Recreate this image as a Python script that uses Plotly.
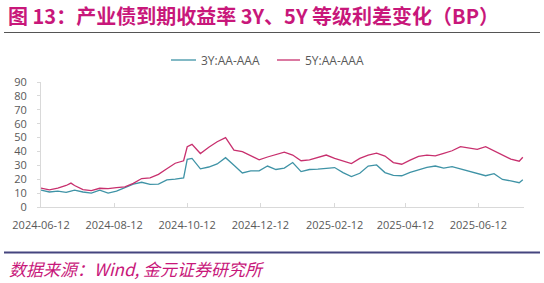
import plotly.graph_objects as go

dates = ["2024-06-12","2024-06-19","2024-06-26","2024-07-03","2024-07-07","2024-07-10","2024-07-17","2024-07-24",
         "2024-07-31","2024-08-07","2024-08-14","2024-08-21","2024-08-28","2024-09-04","2024-09-11","2024-09-18",
         "2024-09-25","2024-10-02","2024-10-09","2024-10-12","2024-10-16","2024-10-23","2024-10-30","2024-11-06",
         "2024-11-13","2024-11-20","2024-11-27","2024-12-04","2024-12-11","2024-12-18","2024-12-25","2025-01-01",
         "2025-01-08","2025-01-15","2025-01-22","2025-01-29","2025-02-05","2025-02-12","2025-02-19","2025-02-26",
         "2025-03-05","2025-03-12","2025-03-19","2025-03-26","2025-04-02","2025-04-09","2025-04-16","2025-04-23",
         "2025-04-30","2025-05-07","2025-05-14","2025-05-21","2025-05-28","2025-06-04","2025-06-11","2025-06-18",
         "2025-06-25","2025-07-02","2025-07-09","2025-07-16","2025-07-19"]

spread_3y = [12.1,10.8,11.4,10.5,11.5,12.1,10.8,10.0,
             12.1,10.0,11.4,13.8,16.5,17.8,16.3,16.5,
             19.5,20.0,21.0,34.3,35.0,27.5,28.8,31.0,
             35.5,30.0,24.5,26.0,26.0,29.5,27.0,28.0,
             32.0,25.5,27.0,27.3,27.9,28.4,24.8,21.9,
             24.3,29.5,30.3,24.8,22.8,22.5,25.0,27.0,
             28.5,29.5,28.0,29.0,27.5,25.8,24.3,22.5,
             24.0,19.8,18.8,17.5,19.6]

spread_5y = [13.6,12.4,13.6,15.5,17.2,15.5,12.5,11.8,
             13.5,13.2,14.0,14.5,17.0,20.5,21.0,23.5,
             27.5,31.5,33.3,43.4,45.1,38.5,43.0,47.0,
             50.0,41.0,39.8,36.8,34.0,36.0,38.0,39.5,
             37.4,33.3,34.0,35.5,37.4,35.0,33.3,31.3,
             35.0,37.4,38.8,36.7,32.0,30.8,33.8,36.5,
             37.4,36.8,38.6,40.5,43.4,42.5,41.5,43.5,
             40.5,38.0,34.5,33.0,35.8]

series_names = ["3Y:AA-AAA", "5Y:AA-AAA"]
series_colors = ["#3f93a6", "#c8306e"]
tick_dates = ["2024-06-12","2024-08-12","2024-10-12","2024-12-12","2025-02-12","2025-04-12","2025-06-12"]
y_ticks = [0,10,20,30,40,50,60,70,80,90]

W, H = 544, 283
L, R, T, B = 41, 20, 82, 76
PW, PH = W - L - R, H - T - B

def px(x):
    return (x - L) / PW

def py(y):
    return (H - B - y) / PH

fig = go.Figure()
for name, vals, col in zip(series_names, [spread_3y, spread_5y], series_colors):
    fig.add_trace(go.Scatter(x=dates, y=vals, mode="lines", name=name,
                             line=dict(color=col, width=1.3), showlegend=False))

tickfont = dict(family="Open Sans, Noto Sans, sans-serif", size=11, color="#595959")
fig.update_layout(
    width=W, height=H,
    margin=dict(l=L, r=R, t=T, b=B),
    paper_bgcolor="white", plot_bgcolor="white",
    xaxis=dict(type="date", range=["2024-06-12", "2025-07-20"], tickvals=tick_dates,
               ticktext=tick_dates, showgrid=False, zeroline=False, showline=True,
               linecolor="#d9d9d9", linewidth=1, ticks="inside", ticklen=4,
               tickcolor="#d9d9d9", tickfont=tickfont, ticklabelstandoff=8),
    yaxis=dict(range=[0, 90], tickvals=y_ticks, showgrid=False, zeroline=False,
               showline=True, linecolor="#d9d9d9", linewidth=1, ticks="outside",
               ticklen=3, tickcolor="#d9d9d9", ticklabelstandoff=8,
               tickfont=dict(family="Open Sans, Noto Sans, sans-serif", size=11, color="#595959")),
)

shapes = []
annotations = []
# legend
leg = [(171, 196, 199), (277, 300, 303)]
for (x0, x1, xt), name, col in zip(leg, series_names, series_colors):
    shapes.append(dict(type="line", xref="paper", yref="paper", x0=px(x0), x1=px(x1),
                       y0=py(60), y1=py(60), line=dict(color=col, width=1.3)))
    annotations.append(dict(xref="paper", yref="paper", x=px(xt), y=py(60), text=name,
                            showarrow=False, xanchor="left", yanchor="middle",
                            font=dict(family="Open Sans, Noto Sans, sans-serif", size=12, color="#595959")))
# title & rules
annotations.append(dict(xref="paper", yref="paper", x=px(6), y=py(15),
                        text="<b>图 13：产业债到期收益率 3Y、5Y 等级利差变化（BP）</b>",
                        showarrow=False, xanchor="left", yanchor="middle",
                        font=dict(family="Noto Sans CJK SC, sans-serif", size=20, color="#c8177a")))
shapes.append(dict(type="line", xref="paper", yref="paper", x0=px(4), x1=px(540),
                   y0=py(32.5), y1=py(32.5), line=dict(color="#555555", width=1.2)))
shapes.append(dict(type="line", xref="paper", yref="paper", x0=px(4), x1=px(540),
                   y0=py(252.5), y1=py(252.5), line=dict(color="#45457f", width=2)))
annotations.append(dict(xref="paper", yref="paper", x=px(7), y=py(268),
                        text="<i>数据来源：Wind, 金元证券研究所</i>",
                        showarrow=False, xanchor="left", yanchor="middle",
                        font=dict(family="Noto Sans CJK SC, sans-serif", size=17, color="#c8177a")))
fig.update_layout(shapes=shapes, annotations=annotations)

fig.write_html("out.html")
